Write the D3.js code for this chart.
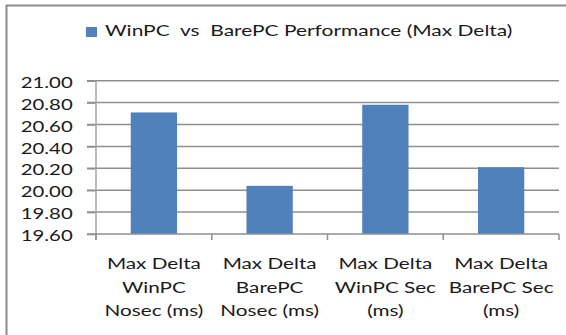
<!DOCTYPE html>
<html>
<head>
<meta charset="utf-8">
<script src="https://cdn.jsdelivr.net/npm/d3@7"></script>
<style>
  html, body { margin: 0; padding: 0; background: #fff; }
  svg { display: block; }
  text { font-family: Lato, "Open Sans", sans-serif; fill: #1a1a1a; }
</style>
</head>
<body>
<svg id="chart" width="566" height="335"></svg>
<script>
// Chart data
const seriesName = "WinPC  vs  BarePC Performance (Max Delta)";
const categories = [
  ["Max Delta", "WinPC", "Nosec (ms)"],
  ["Max Delta", "BarePC", "Nosec (ms)"],
  ["Max Delta", "WinPC Sec", "(ms)"],
  ["Max Delta", "BarePC Sec", "(ms)"]
];
const values = [20.71, 20.04, 20.78, 20.21];
const yTicks = [19.6, 19.8, 20.0, 20.2, 20.4, 20.6, 20.8, 21.0];

const svg = d3.select("#chart");
const W = 566, H = 335;
const plot = { left: 96, right: 559, top: 80.7, bottom: 234 };
const barColor = "#4f81bd";
const gridColor = "#8f8f8f";
const fontSize = "16px";

// horizontal widening of lettering: scale so that a sample string spans a set width
function widen(sample, width) {
  const t = svg.append("text").style("font-size", fontSize).attr("xml:space", "preserve").text(sample);
  const w = t.node().getComputedTextLength();
  t.remove();
  return width / w;
}
const kLegend = widen(seriesName, 408);
const kCat = widen("Max Delta", 94);
const kTick = widen("21.00", 52);

// outer frame
svg.append("rect")
  .attr("x", 6.5).attr("y", 5.5)
  .attr("width", W + 10).attr("height", H + 10)
  .attr("fill", "none").attr("stroke", "#8c8c8c").attr("stroke-width", 2);

const x = d3.scaleBand()
  .domain(d3.range(categories.length))
  .range([plot.left, plot.right])
  .paddingInner(0.6).paddingOuter(0.3);
const xOuter = d3.scaleBand()
  .domain(d3.range(categories.length))
  .range([plot.left, plot.right]);

const y = d3.scaleLinear().domain([19.6, 21.0]).range([plot.bottom, plot.top]);

// gridlines
svg.append("g").selectAll("line")
  .data(yTicks.filter(t => t > 19.6))
  .join("line")
  .attr("x1", plot.left - 9).attr("x2", plot.right)
  .attr("y1", d => y(d)).attr("y2", d => y(d))
  .attr("stroke", gridColor).attr("stroke-width", 1.5);

// bars
svg.append("g").selectAll("rect")
  .data(values)
  .join("rect")
  .attr("x", (d, i) => x(i))
  .attr("width", x.bandwidth())
  .attr("y", d => y(d))
  .attr("height", d => y(19.6) - y(d))
  .attr("fill", barColor);

// y axis
const yAxis = svg.append("g")
  .attr("transform", `translate(${plot.left},0)`)
  .call(d3.axisLeft(y).tickValues(yTicks).tickFormat(d3.format(".2f")).tickSize(9).tickPadding(0));
yAxis.select(".domain").remove();
yAxis.selectAll(".tick line").attr("stroke", gridColor).attr("stroke-width", 1.5);
yAxis.selectAll(".tick text")
  .attr("x", null).attr("dy", null)
  .attr("dominant-baseline", "central")
  .attr("text-anchor", "end")
  .attr("fill", "#1a1a1a")
  .style("font-family", "Lato, sans-serif")
  .style("font-size", fontSize)
  .attr("transform", `translate(-23.3,0.5) scale(${kTick},1)`);

// axis lines
svg.append("line")
  .attr("x1", plot.left).attr("x2", plot.left)
  .attr("y1", plot.top).attr("y2", plot.bottom + 6)
  .attr("stroke", "#a6a6a6").attr("stroke-width", 1.5);
svg.append("line")
  .attr("x1", plot.left - 9).attr("x2", plot.right)
  .attr("y1", plot.bottom).attr("y2", plot.bottom)
  .attr("stroke", gridColor).attr("stroke-width", 1.5);

// category tick marks
const catEdges = d3.range(categories.length + 1).map(i =>
  i < categories.length ? xOuter(i) : plot.right);
svg.append("g").selectAll("line")
  .data(catEdges)
  .join("line")
  .attr("x1", d => d).attr("x2", d => d)
  .attr("y1", plot.bottom).attr("y2", plot.bottom + 6)
  .attr("stroke", gridColor).attr("stroke-width", 1.5);

// category labels
const lineBase = [269.3, 292.8, 316];
const catG = svg.append("g").selectAll("g")
  .data(categories)
  .join("g")
  .attr("transform", (d, i) => `translate(${xOuter(i) + xOuter.bandwidth() / 2},0)`);
catG.selectAll("text")
  .data(d => d)
  .join("text")
  .attr("text-anchor", "middle")
  .style("font-size", fontSize)
  .attr("transform", (d, j) => `translate(0,${lineBase[j]}) scale(${kCat},1)`)
  .text(d => d);

// legend
const leg = svg.append("g");
leg.append("rect")
  .attr("x", 86).attr("y", 27).attr("width", 11).attr("height", 10)
  .attr("fill", barColor);
leg.append("text")
  .attr("transform", `translate(105,36.2) scale(${kLegend},1)`)
  .style("font-size", fontSize)
  .attr("xml:space", "preserve")
  .text(seriesName);
</script>
</body>
</html>
